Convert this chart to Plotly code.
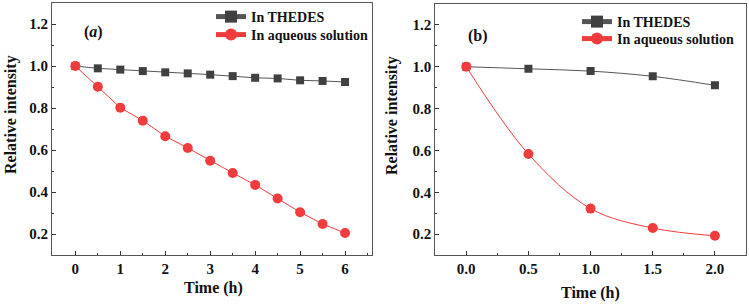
import plotly.graph_objects as go

# Panel (a)
time_a = [0, 0.5, 1, 1.5, 2, 2.5, 3, 3.5, 4, 4.5, 5, 5.5, 6]
thedes_a = [1.0, 0.989, 0.983, 0.976, 0.970, 0.965, 0.959, 0.952, 0.944, 0.941, 0.932, 0.929, 0.924]
aqueous_a = [1.0, 0.902, 0.802, 0.740, 0.666, 0.610, 0.549, 0.491, 0.434, 0.369, 0.304, 0.248, 0.205]

# Panel (b)
time_b = [0.0, 0.5, 1.0, 1.5, 2.0]
thedes_b = [1.0, 0.990, 0.979, 0.954, 0.911]
aqueous_b = [1.0, 0.583, 0.322, 0.229, 0.192]

x_ticks_a = [0, 1, 2, 3, 4, 5, 6]
x_ticklabels_a = ["0", "1", "2", "3", "4", "5", "6"]
x_ticks_b = [0.0, 0.5, 1.0, 1.5, 2.0]
x_ticklabels_b = ["0.0", "0.5", "1.0", "1.5", "2.0"]
y_ticks = [0.2, 0.4, 0.6, 0.8, 1.0, 1.2]
y_ticklabels = ["0.2", "0.4", "0.6", "0.8", "1.0", "1.2"]

GRAY = "#404040"
RED = "#f03c3c"
FONT = "Liberation Serif"
W, H = 749, 304

fig = go.Figure()

fig.add_trace(go.Scatter(x=time_a, y=thedes_a, mode="lines+markers", name="In THEDES",
                         line=dict(color="#555555", width=1),
                         marker=dict(symbol="square", size=8, color=GRAY),
                         xaxis="x", yaxis="y", legend="legend"))
fig.add_trace(go.Scatter(x=time_a, y=aqueous_a, mode="lines+markers", name="In aqueous solution",
                         line=dict(color=RED, width=1),
                         marker=dict(symbol="circle", size=10, color=RED),
                         xaxis="x", yaxis="y", legend="legend3"))
fig.add_trace(go.Scatter(x=time_b, y=thedes_b, mode="lines+markers", name="In THEDES",
                         line=dict(color="#555555", width=1, shape="spline"),
                         marker=dict(symbol="square", size=8, color=GRAY),
                         xaxis="x2", yaxis="y2", legend="legend2"))
fig.add_trace(go.Scatter(x=time_b, y=aqueous_b, mode="lines+markers", name="In aqueous solution",
                         line=dict(color=RED, width=1, shape="spline", smoothing=1.0),
                         marker=dict(symbol="circle", size=10, color=RED),
                         xaxis="x2", yaxis="y2", legend="legend4"))

tickfont = dict(family=FONT, size=15, color="#111111", weight="bold")
titlefont = dict(family=FONT, size=16, color="#111111", weight="bold")
legfont = dict(family=FONT, size=14, color="#111111", weight="bold")

axis_common = dict(showgrid=False, zeroline=False, showline=True, mirror=True, automargin=False,
                   linecolor="#555555", linewidth=1, ticks="inside", ticklen=4,
                   tickcolor="#333333", tickfont=tickfont)

def leg(xpx, ytop):
    return dict(x=xpx / W, y=1 - ytop / H, xanchor="left", yanchor="top",
                bgcolor="rgba(0,0,0,0)", font=legfont, itemsizing="constant")

def ann(text, xpx, ypx, angle=0, size=16):
    return dict(text=text, x=xpx / W, y=1 - ypx / H, xref="paper", yref="paper",
                xanchor="center", yanchor="middle", textangle=angle, showarrow=False,
                font=dict(family=FONT, size=size, color="#111111", weight="bold"))

fig.update_layout(
    width=W, height=H,
    margin=dict(l=0, r=0, t=0, b=0),
    paper_bgcolor="white", plot_bgcolor="white",
    font=dict(family=FONT, color="#111111"),
    xaxis=dict(domain=[0.0694, 0.4967], range=[-0.52, 6.6], tickvals=x_ticks_a, ticktext=x_ticklabels_a,
               minor=dict(ticks="inside", ticklen=2, dtick=0.5, tickcolor="#333333"),
               anchor="y", **axis_common),
    yaxis=dict(domain=[0.161, 0.99], range=[0.1, 1.3], tickvals=y_ticks, ticktext=y_ticklabels,
               minor=dict(ticks="inside", ticklen=2, dtick=0.1, tickcolor="#333333"),
               anchor="x", **axis_common),
    xaxis2=dict(domain=[0.581, 0.996], range=[-0.25, 2.25], tickvals=x_ticks_b, ticktext=x_ticklabels_b,
                minor=dict(ticks="inside", ticklen=2, dtick=0.25, tickcolor="#333333"),
                anchor="y2", **axis_common),
    yaxis2=dict(domain=[0.161, 0.987], range=[0.1, 1.3], tickvals=y_ticks, ticktext=y_ticklabels,
                minor=dict(ticks="inside", ticklen=2, dtick=0.1, tickcolor="#333333"),
                anchor="x2", **axis_common),
    legend=leg(211, 1),
    legend3=leg(211, 19),
    legend2=leg(577, 6),
    legend4=leg(577, 23),
    showlegend=True,
    annotations=[
        ann("(<i>a</i>)", 93, 32),
        ann("(b)", 478, 36),
        ann("Relative intensity", 11, 115, angle=-90),
        ann("Relative intensity", 392, 115, angle=-90),
        ann("Time (h)", 213, 288),
        ann("Time (h)", 590, 293),
    ],
)

fig.write_html("out.html", config={"displayModeBar": False},
               post_script="document.body.style.margin='0';document.body.style.padding='0';")
